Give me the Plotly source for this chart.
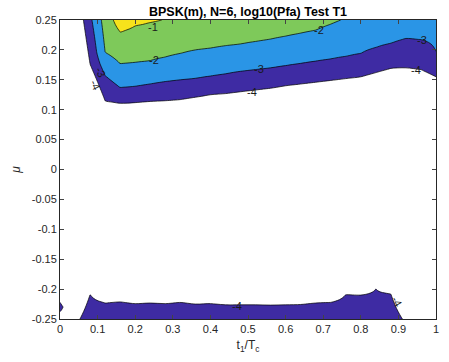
import numpy as np
import plotly.graph_objects as go

# ---- data (contour crossing positions per t1/Tc column) ----
t1 = [0.00, 0.04, 0.08, 0.12, 0.16, 0.20, 0.24, 0.28, 0.32, 0.36, 0.40, 0.44, 0.48,
      0.52, 0.56, 0.60, 0.64, 0.68, 0.72, 0.76, 0.80, 0.84, 0.88, 0.92, 0.96, 1.00]

# upper region: mu where log10(Pfa) crosses -4, -3, -2, -1, and value at mu=0.25
mu_m4_up = [None, None, 0.176, 0.115, 0.111, 0.112, 0.114, 0.115, 0.117, 0.121, 0.125, 0.127, 0.130,
            0.133, 0.136, 0.140, 0.143, 0.146, 0.149, 0.152, 0.155, 0.162, 0.169, 0.170, 0.167, 0.155]
mu_m3 = [None, None, None, 0.157, 0.137, 0.139, 0.143, 0.147, 0.150, 0.1525, 0.156, 0.160, 0.164,
         0.167, 0.170, 0.1735, 0.1775, 0.181, 0.185, 0.189, 0.194, 0.204, 0.211, 0.219, 0.217, 0.197]
mu_m2 = [None, None, None, 0.196, 0.177, 0.179, 0.182, 0.188, 0.194, 0.200, 0.203, 0.207, 0.210,
         0.214, 0.218, 0.223, 0.228, 0.233, 0.243, None, None, None, None, None, None, None]
mu_m1 = [None, None, None, None, 0.230, 0.240, 0.246, None, None, None, None, None, None,
         None, None, None, None, None, None, None, None, None, None, None, None, None]
z_top = [-6, -5, -3.2, -1.6, -0.5, -0.8, -0.9, -1.03, -1.1, -1.15, -1.2, -1.3, -1.35,
         -1.4, -1.5, -1.55, -1.65, -1.75, -1.9, -2.05, -2.2, -2.3, -2.4, -2.5, -2.6, -2.7]

# lower region: mu where log10(Pfa) crosses -4, and value at mu=-0.25
mu_m4_low = [None, None, -0.209, -0.223, -0.221, -0.224, -0.223, -0.224, -0.222, -0.225, -0.224, -0.226, -0.226,
             -0.226, -0.2265, -0.226, -0.2255, -0.223, -0.222, -0.209, -0.210, -0.200, -0.208, None, None, None]
z_bot = [-4.5, -4.24, -3.5, -3.5, -3.5, -3.5, -3.5, -3.5, -3.5, -3.5, -3.5, -3.5, -3.5,
         -3.5, -3.5, -3.5, -3.5, -3.5, -3.5, -3.5, -3.5, -3.5, -3.5, -4.15, -6, -6]

# small island at t1=0 near mu=-0.23
blob_mu = [-0.238, -0.230, -0.222]
blob_z = [-4.0, -3.85, -4.0]

levels = [-4, -3, -2, -1]

# contour labels (text, t1, mu, angle)
label_text = ["-1", "-2", "-2", "-3", "-3", "-3", "-4", "-4", "-4", "-4", "-4"]
label_x = [0.246, 0.251, 0.69, 0.108, 0.528, 0.963, 0.095, 0.51, 0.948, 0.47, 0.897]
label_y = [0.239, 0.183, 0.234, 0.163, 0.168, 0.217, 0.142, 0.130, 0.166, -0.228, -0.221]
label_angle = [0, 0, 0, 65, 0, 0, 65, 0, 0, 0, 60]

x_ticks = [0, 0.1, 0.2, 0.3, 0.4, 0.5, 0.6, 0.7, 0.8, 0.9, 1]
x_ticktext = ["0", "0.1", "0.2", "0.3", "0.4", "0.5", "0.6", "0.7", "0.8", "0.9", "1"]
y_ticks = [0.25, 0.2, 0.15, 0.1, 0.05, 0, -0.05, -0.1, -0.15, -0.2, -0.25]
y_ticktext = ["0.25", "0.2", "0.15", "0.1", "0.05", "0", "-0.05", "-0.1", "-0.15", "-0.2", "-0.25"]

# ---- build grid ----
mu = np.linspace(-0.25, 0.25, 201)
FLOOR = -6.0
Z = np.full((len(mu), len(t1)), FLOOR)
for j in range(len(t1)):
    kn = []
    if mu_m4_up[j] is not None:
        kn.append((mu_m4_up[j] - 0.08, FLOOR))
        kn.append((mu_m4_up[j], -4.0))
    else:
        kn.append((0.15, FLOOR))
    for m, lv in ((mu_m3[j], -3.0), (mu_m2[j], -2.0), (mu_m1[j], -1.0)):
        if m is not None:
            kn.append((m, lv))
    kn.append((0.25, z_top[j]))
    up = np.interp(mu, [k[0] for k in kn], [k[1] for k in kn])
    kl = [(-0.25, z_bot[j])]
    if j == 0:
        kl += list(zip(blob_mu, blob_z))
        kl.append((-0.16, FLOOR))
    elif mu_m4_low[j] is not None:
        kl.append((mu_m4_low[j], -4.0))
        kl.append((mu_m4_low[j] + 0.06, FLOOR))
    else:
        kl.append((-0.15, FLOOR))
    lo = np.interp(mu, [k[0] for k in kl], [k[1] for k in kl])
    Z[:, j] = np.maximum(up, lo)

colors = ["#ffffff", "#3e2ba3", "#2a95e6", "#7ec95a", "#f6e31c"]
cs = [[i / 4, c] for i, c in enumerate(colors)]

font = "Liberation Sans, Arial, Helvetica, sans-serif"

fig = go.Figure(go.Contour(
    x=t1, y=mu, z=Z,
    contours=dict(start=levels[0], end=levels[-1], size=1, coloring="fill", showlabels=False),
    colorscale=cs, showscale=False,
    line=dict(color="black", width=0.7),
    hoverinfo="skip",
))

for t, lx, ly, ang in zip(label_text, label_x, label_y, label_angle):
    fig.add_annotation(x=lx, y=ly, xref="x", yref="y", text=t, showarrow=False,
                       textangle=ang, font=dict(size=11, color="#1a1a1a", family=font))

fig.update_layout(
    width=449, height=362,
    margin=dict(l=60, r=10, t=20, b=43),
    paper_bgcolor="white", plot_bgcolor="white",
    font=dict(family=font, size=11, color="#262626"),
    title=dict(text="<b>BPSK(m), N=6, log10(Pfa) Test T1</b>", x=0.5, xref="paper",
               y=1, yref="paper", yanchor="bottom", pad=dict(b=4),
               font=dict(size=12.5, color="black", family=font)),
    xaxis=dict(range=[0, 1], tickvals=x_ticks, ticktext=x_ticktext, ticks="inside", ticklen=4,
               showline=True, linecolor="#262626", linewidth=1, mirror="ticks",
               showgrid=False, zeroline=False,
               title=dict(text="t<sub>1</sub>/T<sub>c</sub>", standoff=6, font=dict(size=12))),
    yaxis=dict(range=[-0.25, 0.25], tickvals=y_ticks, ticktext=y_ticktext, ticks="inside", ticklen=4,
               showline=True, linecolor="#262626", linewidth=1, mirror="ticks",
               showgrid=False, zeroline=False,
               title=dict(text="<i>μ</i>", standoff=8, font=dict(size=12))),
)

fig.write_html("out.html")
